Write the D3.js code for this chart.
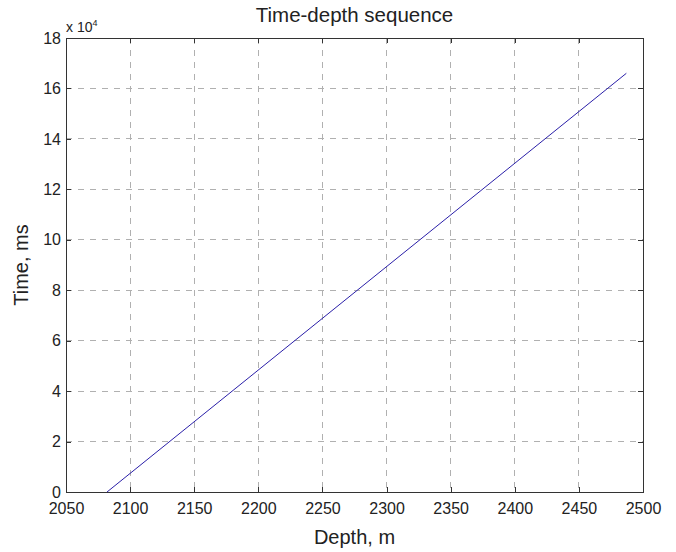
<!DOCTYPE html>
<html>
<head>
<meta charset="utf-8">
<script src="https://cdn.jsdelivr.net/npm/d3@7"></script>
<style>
  body { margin: 0; background: #fff; }
  svg { font-family: Arial, "Liberation Sans", sans-serif; }
  .grid line { stroke: #b0b0b0; stroke-dasharray: 6 6; shape-rendering: crispEdges; }
  .axis path, .axis line { stroke: #333; shape-rendering: crispEdges; }
</style>
</head>
<body>
<div id="chart"></div>
<script>
// depth (m) vs time (ms)
const depth = [2082, 2487]
const time = [0, 166000]
const xTicks = [2050, 2100, 2150, 2200, 2250, 2300, 2350, 2400, 2450, 2500]
const yTicks = [0, 2, 4, 6, 8, 10, 12, 14, 16, 18]

const width = 676, height = 552
const margin = {top: 38, right: 33, bottom: 60, left: 66}
const w = width - margin.left - margin.right
const h = height - margin.top - margin.bottom

const svg = d3.select('#chart').append('svg')
  .attr('width', width)
  .attr('height', height)

const g = svg.append('g').attr('transform', `translate(${margin.left},${margin.top})`)

const x = d3.scaleLinear().domain([2050, 2500]).range([0, w])
// y axis in units of 10^4
const y = d3.scaleLinear().domain([0, 18]).range([h, 0])

// grid
g.append('g').attr('class', 'grid')
  .selectAll('line').data(xTicks.slice(1, -1)).enter().append('line')
  .attr('x1', d => x(d)).attr('x2', d => x(d))
  .attr('y1', 0).attr('y2', h)
g.append('g').attr('class', 'grid')
  .selectAll('line').data(yTicks.slice(1, -1)).enter().append('line')
  .attr('y1', d => y(d)).attr('y2', d => y(d))
  .attr('x1', 0).attr('x2', w)

// axes (ticks inside, like matlab)
g.append('g').attr('class', 'axis')
  .attr('transform', `translate(0,${h})`)
  .call(d3.axisBottom(x).tickValues(xTicks).tickFormat(d3.format('d'))
    .tickSize(-5).tickPadding(11).tickSizeOuter(0))
g.append('g').attr('class', 'axis')
  .call(d3.axisTop(x).tickValues(xTicks).tickSize(-5).tickFormat('').tickSizeOuter(0))
g.append('g').attr('class', 'axis')
  .call(d3.axisLeft(y).tickValues(yTicks).tickFormat(d3.format('d'))
    .tickSize(-5).tickPadding(5).tickSizeOuter(0))
g.append('g').attr('class', 'axis')
  .attr('transform', `translate(${w},0)`)
  .call(d3.axisRight(y).tickValues(yTicks).tickSize(-5).tickFormat('').tickSizeOuter(0))

g.selectAll('.axis text').attr('font-size', 16).attr('fill', '#222')
g.selectAll('.axis').attr('font-family', null)

// box
g.append('rect')
  .attr('width', w).attr('height', h)
  .attr('fill', 'none').attr('stroke', '#333')
  .attr('shape-rendering', 'crispEdges')

// the line
const pts = depth.map((d, i) => [d, time[i] / 1e4])
g.append('path')
  .datum(pts)
  .attr('fill', 'none')
  .attr('stroke', '#2a1fa8')
  .attr('stroke-width', 1)
  .attr('d', d3.line().x(d => x(d[0])).y(d => y(d[1])))

// exponent label
const ex = svg.append('text')
  .attr('x', margin.left).attr('y', margin.top - 6)
  .attr('font-size', 14).attr('fill', '#222')
ex.append('tspan').text('x 10')
ex.append('tspan').attr('font-size', 9).attr('dy', -6).text('4')

// title and labels
svg.append('text')
  .attr('x', margin.left + w / 2).attr('y', 22)
  .attr('text-anchor', 'middle')
  .attr('font-size', 20.5).attr('fill', '#222')
  .text('Time-depth sequence')

svg.append('text')
  .attr('x', margin.left + w / 2).attr('y', height - 8)
  .attr('text-anchor', 'middle')
  .attr('font-size', 20).attr('fill', '#222')
  .text('Depth, m')

svg.append('text')
  .attr('transform', `translate(28,${margin.top + h / 2}) rotate(-90)`)
  .attr('text-anchor', 'middle')
  .attr('font-size', 20).attr('fill', '#222')
  .text('Time, ms')
</script>
</body>
</html>
